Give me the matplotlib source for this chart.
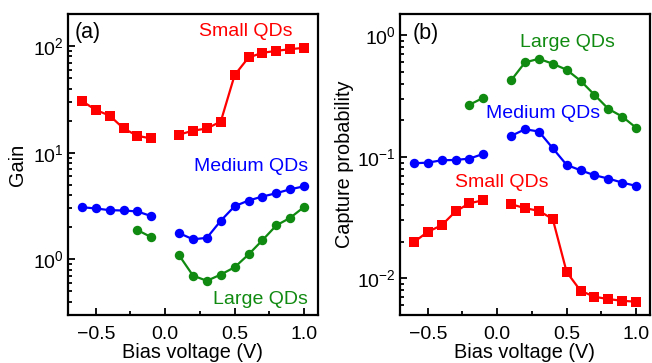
import matplotlib
matplotlib.use("Agg")
import matplotlib.pyplot as plt
import numpy as np
from matplotlib.ticker import MultipleLocator

plt.rcParams['font.family'] = ['Liberation Sans', 'DejaVu Sans']
plt.rcParams['mathtext.fontset'] = 'custom'
plt.rcParams['mathtext.rm'] = 'Liberation Sans'

# bias voltage
v_neg = [-0.6, -0.5, -0.4, -0.3, -0.2, -0.1]
v_pos = [0.1, 0.2, 0.3, 0.4, 0.5, 0.6, 0.7, 0.8, 0.9, 1.0]
v_neg_large = [-0.2, -0.1]

# (a) gain
gain_small_neg = [30.6, 25.2, 22.3, 16.9, 14.4, 13.6]
gain_small_pos = [14.8, 16.1, 16.9, 19.6, 53.6, 78.3, 86.6, 90.4, 93.7, 96.5]
gain_medium_neg = [3.08, 3.0, 2.89, 2.87, 2.81, 2.54]
gain_medium_pos = [1.76, 1.54, 1.59, 2.30, 3.15, 3.56, 3.88, 4.17, 4.54, 4.84]
gain_large_neg = [1.88, 1.61]
gain_large_pos = [1.09, 0.703, 0.628, 0.719, 0.842, 1.11, 1.51, 2.08, 2.45, 3.10]

# (b) capture probability
cap_small_neg = [0.0199, 0.0242, 0.0274, 0.0356, 0.0416, 0.0440]
cap_small_pos = [0.0408, 0.0379, 0.0360, 0.0308, 0.0113, 0.00792, 0.00707, 0.00676, 0.00655, 0.00643]
cap_medium_neg = [0.0887, 0.0898, 0.0939, 0.0945, 0.0969, 0.106]
cap_medium_pos = [0.149, 0.169, 0.162, 0.118, 0.086, 0.0777, 0.0707, 0.0664, 0.0615, 0.0578]
cap_large_neg = [0.269, 0.307]
cap_large_pos = [0.427, 0.600, 0.643, 0.585, 0.522, 0.424, 0.325, 0.249, 0.215, 0.174]

red = '#ff0000'
blue = '#0000ff'
green = '#108a10'

fig = plt.figure(figsize=(6.52, 3.63), dpi=100)
ax1 = fig.add_axes([0.1043, 0.1322, 0.3834, 0.829])
ax2 = fig.add_axes([0.6135, 0.1322, 0.3834, 0.829])

def draw(ax, x, y, c, m):
    ax.plot(x, y, color=c, marker=m, markersize=6.8, linewidth=1.6, markeredgewidth=0)

draw(ax1, v_neg, gain_small_neg, red, 's')
draw(ax1, v_pos, gain_small_pos, red, 's')
draw(ax1, v_neg, gain_medium_neg, blue, 'o')
draw(ax1, v_pos, gain_medium_pos, blue, 'o')
draw(ax1, v_neg_large, gain_large_neg, green, 'o')
draw(ax1, v_pos, gain_large_pos, green, 'o')

draw(ax2, v_neg, cap_small_neg, red, 's')
draw(ax2, v_pos, cap_small_pos, red, 's')
draw(ax2, v_neg, cap_medium_neg, blue, 'o')
draw(ax2, v_pos, cap_medium_pos, blue, 'o')
draw(ax2, v_neg_large, cap_large_neg, green, 'o')
draw(ax2, v_pos, cap_large_pos, green, 'o')

for ax in (ax1, ax2):
    ax.set_yscale('log')
    ax.set_xlim(-0.7, 1.1)
    ax.xaxis.set_major_locator(MultipleLocator(0.5))
    ax.xaxis.set_minor_locator(MultipleLocator(0.25))
    ax.tick_params(which='both', direction='in', top=False, right=False, labelsize=14, width=1.3)
    ax.tick_params(axis='x', which='major', pad=8)
    ax.tick_params(axis='y', which='major', pad=3)
    ax.tick_params(which='major', length=5)
    ax.tick_params(which='minor', length=3)
    for s in ax.spines.values():
        s.set_linewidth(1.6)
    ax.set_xlabel('Bias voltage (V)', fontsize=14.3, labelpad=0)

ax1.set_ylim(0.3, 200)
ax2.set_ylim(0.005, 1.5)
ax1.set_ylabel('Gain', fontsize=14.3, labelpad=4)
ax2.set_ylabel('Capture probability', fontsize=14.3, labelpad=2)

ax1.text(0.028, 0.94, '(a)', transform=ax1.transAxes, fontsize=15.5, va='center')
ax1.text(0.90, 0.943, 'Small QDs', transform=ax1.transAxes, fontsize=14, color=red, ha='right', va='center')
ax1.text(0.961, 0.495, 'Medium QDs', transform=ax1.transAxes, fontsize=14, color=blue, ha='right', va='center')
ax1.text(0.96, 0.05, 'Large QDs', transform=ax1.transAxes, fontsize=14, color=green, ha='right', va='center')

ax2.text(0.052, 0.937, '(b)', transform=ax2.transAxes, fontsize=15.5, va='center')
ax2.text(0.67, 0.907, 'Large QDs', transform=ax2.transAxes, fontsize=14, color=green, ha='center', va='center')
ax2.text(0.572, 0.671, 'Medium QDs', transform=ax2.transAxes, fontsize=14, color=blue, ha='center', va='center')
ax2.text(0.407, 0.439, 'Small QDs', transform=ax2.transAxes, fontsize=14, color=red, ha='center', va='center')

fig.savefig('out.png', dpi=100)
